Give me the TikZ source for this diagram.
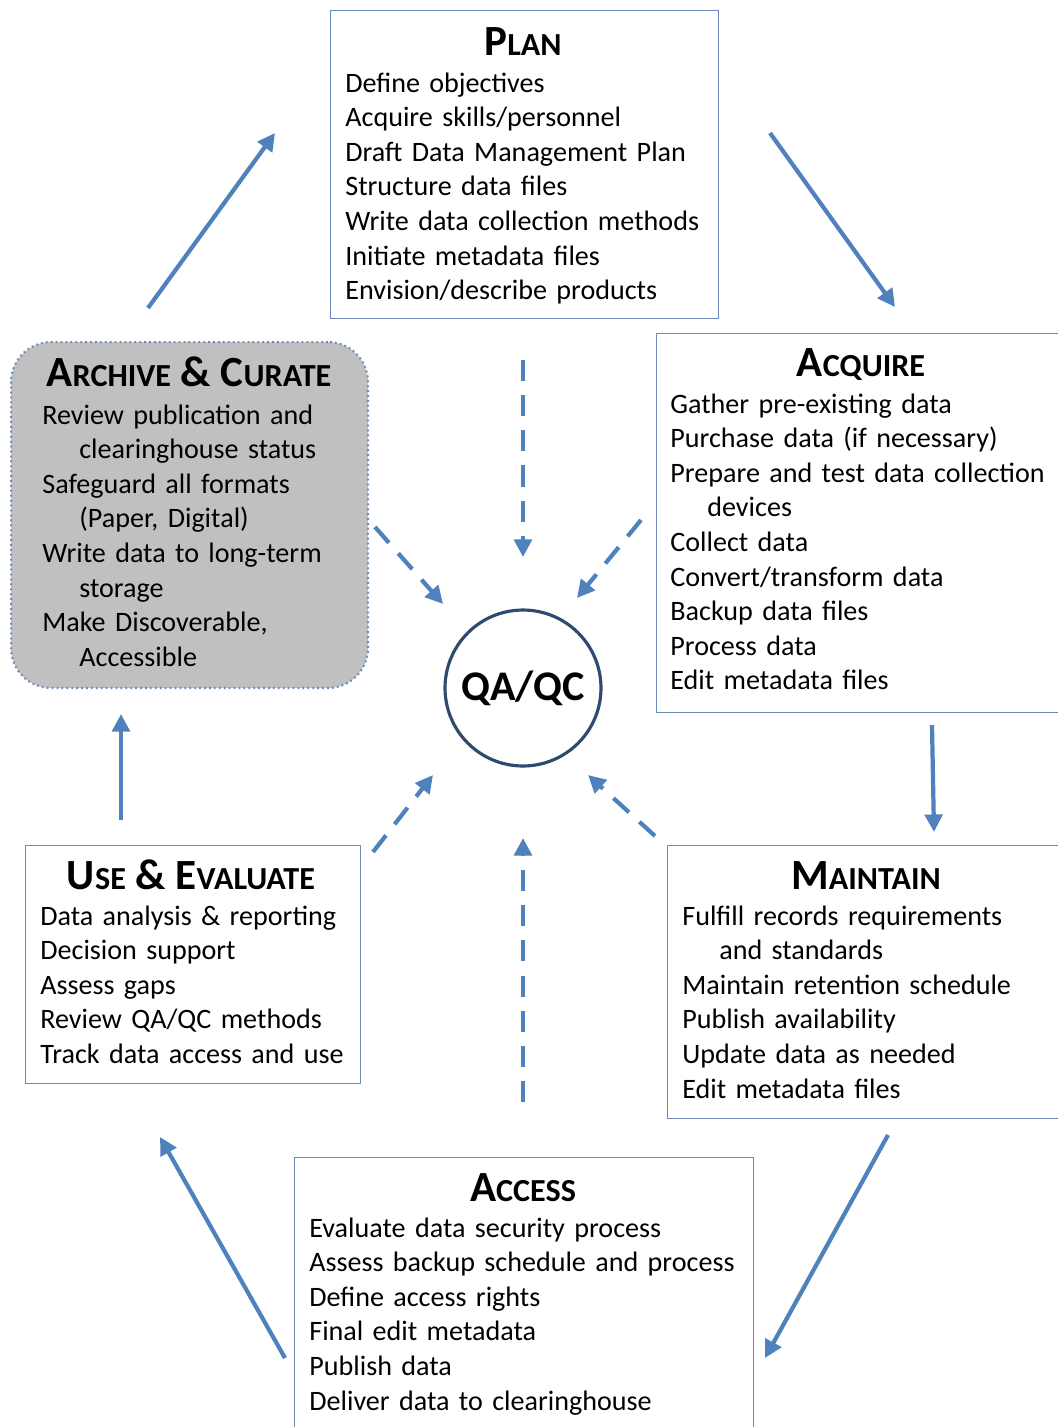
\documentclass[tikz,border=0pt]{standalone}
\usepackage{fontspec}
\setmainfont{Carlito}
\usetikzlibrary{arrows.meta}

\definecolor{flowblue}{HTML}{4F81BD}
\definecolor{boxline}{HTML}{6A8AB8}
\definecolor{ringblue}{HTML}{2E4A6E}
\definecolor{archgray}{HTML}{C0C0C0}

\newcommand{\smcap}[1]{{\fontsize{18.3}{18}\selectfont #1}}
\newcommand{\ind}{\hspace*{0.74cm}}

\tikzset{
    box/.style={draw=boxline, line width=0.8pt, anchor=north west, inner sep=0pt},
    title/.style={font=\bfseries\fontsize{24.5}{24}\selectfont, anchor=base, inner sep=0pt},
    items/.style={font=\fontsize{16}{19.7}\selectfont, text width=12cm, align=left, anchor=base west, inner sep=0pt},
    flow/.style={flowblue, line width=2.4pt, -{Triangle[length=10pt,width=10pt]}},
    qcflow/.style={flow, dash pattern=on 12pt off 8pt},
}

\begin{document}
\begin{tikzpicture}[x=0.02cm, y=-0.02cm]
    \useasboundingbox (0,0) rectangle (1058,1427);

    % Boxes
    \node[box, minimum width=7.76cm, minimum height=6.16cm] (plan) at (330,10) {};
    \node[box, minimum width=8.24cm, minimum height=7.58cm] (acquire) at (656,333) {};
    \node[box, minimum width=8.02cm, minimum height=5.46cm] (maintain) at (667,845) {};
    \node[box, minimum width=9.18cm, minimum height=5.66cm] (access) at (294,1157) {};
    \node[box, minimum width=6.70cm, minimum height=4.76cm] (use) at (25,845) {};
    \node[box, minimum width=7.14cm, minimum height=6.92cm, fill=archgray,
        rounded corners=0.8cm, line width=1.2pt, dash pattern=on 1pt off 1.8pt] (archive) at (10,341) {};

    % Centre circle
    \node[circle, draw=ringblue, line width=1.8pt, minimum size=3.12cm, inner sep=0pt,
        font=\bfseries\fontsize{24}{24}\selectfont] (qa) at (523,688) {QA/QC};

    % Titles
    \node[title] (plantitle) at (523,55) {P\smcap{LAN}};
    \node[title] (acquiretitle) at (861,376) {A\smcap{CQUIRE}};
    \node[title] (maintaintitle) at (866,889) {M\smcap{AINTAIN}};
    \node[title] (accesstitle) at (523,1201) {A\smcap{CCESS}};
    \node[title] (usetitle) at (191,889) {U\smcap{SE} \& E\smcap{VALUATE}};
    \node[title] (archivetitle) at (189,386) {A\smcap{RCHIVE} \& C\smcap{URATE}};

    % Lists
    \node[items] (planlist) at (345,92) {Define objectives\\Acquire skills/personnel\\Draft Data Management Plan\\
        Structure data files\\Write data collection methods\\Initiate metadata files\\Envision/describe products};
    \node[items] (acquirelist) at (670,413) {Gather pre-existing data\\Purchase data (if necessary)\\
        Prepare and test data collection\\\ind devices\\Collect data\\Convert/transform data\\
        Backup data files\\Process data\\Edit metadata files};
    \node[items] (maintainlist) at (682,925) {Fulfill records requirements\\\ind and standards\\
        Maintain retention schedule\\Publish availability\\Update data as needed\\Edit metadata files};
    \node[items] (accesslist) at (309,1237) {Evaluate data security process\\Assess backup schedule and process\\
        Define access rights\\Final edit metadata\\Publish data\\Deliver data to clearinghouse};
    \node[items] (uselist) at (40,925) {Data analysis \& reporting\\Decision support\\Assess gaps\\
        Review QA/QC methods\\Track data access and use};
    \node[items] (archivelist) at (42,424) {Review publication and\\\ind clearinghouse status\\
        Safeguard all formats\\\ind (Paper, Digital)\\Write data to long-term\\\ind storage\\
        Make Discoverable,\\\ind Accessible};

    % Cycle arrow ends
    \coordinate (a1) at (148,308);  \coordinate (a2) at (275,133);
    \coordinate (p1) at (770,133);  \coordinate (p2) at (895,307);
    \coordinate (q1) at (932,725);  \coordinate (q2) at (934,832);
    \coordinate (m1) at (888,1135); \coordinate (m2) at (765,1358);
    \coordinate (s1) at (285,1358); \coordinate (s2) at (160,1137);
    \coordinate (u1) at (121,820);  \coordinate (u2) at (121,714);

    % QA/QC arrow ends
    \coordinate (n1) at (523,360);  \coordinate (n2) at (523,557);
    \coordinate (w1) at (375,527);  \coordinate (w2) at (443,604);
    \coordinate (e1) at (641,520);  \coordinate (e2) at (577,598);
    \coordinate (sw1) at (373,852); \coordinate (sw2) at (433,775);
    \coordinate (se1) at (655,836); \coordinate (se2) at (588,775);
    \coordinate (b1) at (523,1102); \coordinate (b2) at (523,838);

    % Cycle
    \foreach \s/\e in {a1/a2, p1/p2, q1/q2, m1/m2, s1/s2, u1/u2}
    {
        \draw[flow] (\s) -- (\e);
    }
    % Into QA/QC
    \foreach \s/\e in {n1/n2, w1/w2, e1/e2, sw1/sw2, se1/se2, b1/b2}
    {
        \draw[qcflow] (\s) -- (\e);
    }
\end{tikzpicture}
\end{document}
